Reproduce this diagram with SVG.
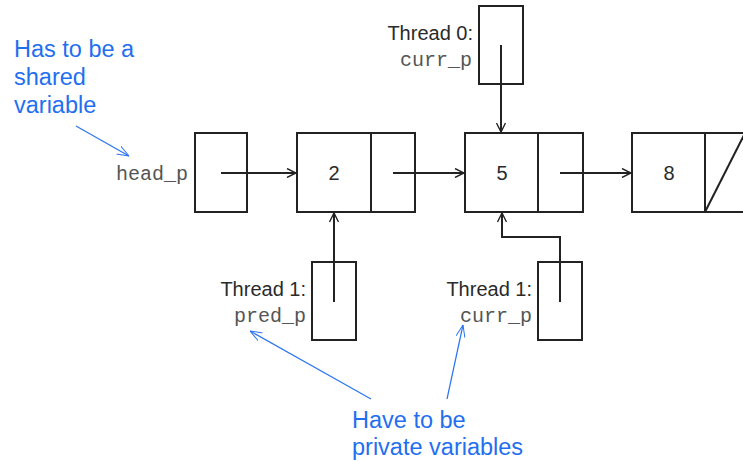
<svg xmlns="http://www.w3.org/2000/svg" width="743" height="461" viewBox="0 0 743 461">
<defs>
<marker id="ah" viewBox="0 0 10 10" refX="10" refY="5" markerWidth="10" markerHeight="10" markerUnits="userSpaceOnUse" orient="auto">
<path d="M1,0.5 L10,5 L1,9.5" fill="none" stroke="#222" stroke-width="1.4"/>
</marker>
<marker id="bh" viewBox="0 0 12 10" refX="12" refY="5" markerWidth="12" markerHeight="10" markerUnits="userSpaceOnUse" orient="auto">
<path d="M0,0.5 L12,5 L0,9.5" fill="none" stroke="#2a75f0" stroke-width="1"/>
</marker>
<style>
.box{fill:#fff;stroke:#222;stroke-width:2}
.ln{fill:none;stroke:#222;stroke-width:2}
.arr{fill:none;stroke:#222;stroke-width:2;marker-end:url(#ah)}
.barr{fill:none;stroke:#2a75f0;stroke-width:1.2;marker-end:url(#bh)}
.lbl{font-family:"Liberation Sans",Arial,sans-serif;font-size:20px;fill:#2a2a2a}
.mono{font-family:"Liberation Mono","Courier New",monospace;font-size:20px;fill:#555}
.note{font-family:"Liberation Sans",Arial,sans-serif;font-size:23.5px;fill:#1f6ff0}
</style>
</defs>
<g id="note-shared">
<text class="note" x="14" y="57">Has to be a</text>
<text class="note" x="14" y="85">shared</text>
<text class="note" x="14" y="113">variable</text>
</g>
<g id="note-private">
<text class="note" x="352" y="428">Have to be</text>
<text class="note" x="352" y="455">private variables</text>
</g>
<g id="head_p">
<rect class="box" x="195" y="133" width="52" height="79"/>
<text class="mono" x="188" y="180" text-anchor="end">head_p</text>
</g>
<g id="node2">
<rect class="box" x="297" y="133" width="118" height="79"/>
<line class="ln" x1="371" y1="133" x2="371" y2="212"/>
<text class="lbl" x="334" y="180" text-anchor="middle">2</text>
</g>
<g id="node5">
<rect class="box" x="465" y="133" width="118" height="79"/>
<line class="ln" x1="538" y1="133" x2="538" y2="212"/>
<text class="lbl" x="502" y="180" text-anchor="middle">5</text>
</g>
<g id="node8">
<rect class="box" x="632" y="133" width="150" height="79"/>
<line class="ln" x1="705" y1="133" x2="705" y2="212"/>
<line class="ln" x1="705" y1="212" x2="745" y2="133" stroke-width="1.5"/>
<text class="lbl" x="669" y="180" text-anchor="middle">8</text>
</g>
<g id="thread0-curr_p">
<rect class="box" x="479" y="6" width="44" height="78"/>
<text class="lbl" x="473" y="40" text-anchor="end">Thread 0:</text>
<text class="mono" x="472" y="66" text-anchor="end">curr_p</text>
</g>
<g id="thread1-pred_p">
<rect class="box" x="312" y="262" width="44" height="78"/>
<text class="lbl" x="306" y="296" text-anchor="end">Thread 1:</text>
<text class="mono" x="306" y="322" text-anchor="end">pred_p</text>
</g>
<g id="thread1-curr_p">
<rect class="box" x="538" y="262" width="44" height="78"/>
<text class="lbl" x="532" y="296" text-anchor="end">Thread 1:</text>
<text class="mono" x="532" y="322" text-anchor="end">curr_p</text>
</g>
<g id="connectors">
<line class="arr" x1="221" y1="173" x2="296" y2="173"/>
<line class="arr" x1="393" y1="173" x2="464" y2="173"/>
<line class="arr" x1="560" y1="173" x2="631" y2="173"/>
<line class="arr" x1="501" y1="45" x2="501" y2="132"/>
<line class="arr" x1="334" y1="302" x2="334" y2="213"/>
<polyline class="arr" points="560,302 560,237 502,237 502,213"/>
<line class="barr" x1="76" y1="126" x2="129" y2="156"/>
<line class="barr" x1="371" y1="399" x2="250" y2="331"/>
<line class="barr" x1="447" y1="399" x2="463" y2="325"/>
</g>
</svg>
